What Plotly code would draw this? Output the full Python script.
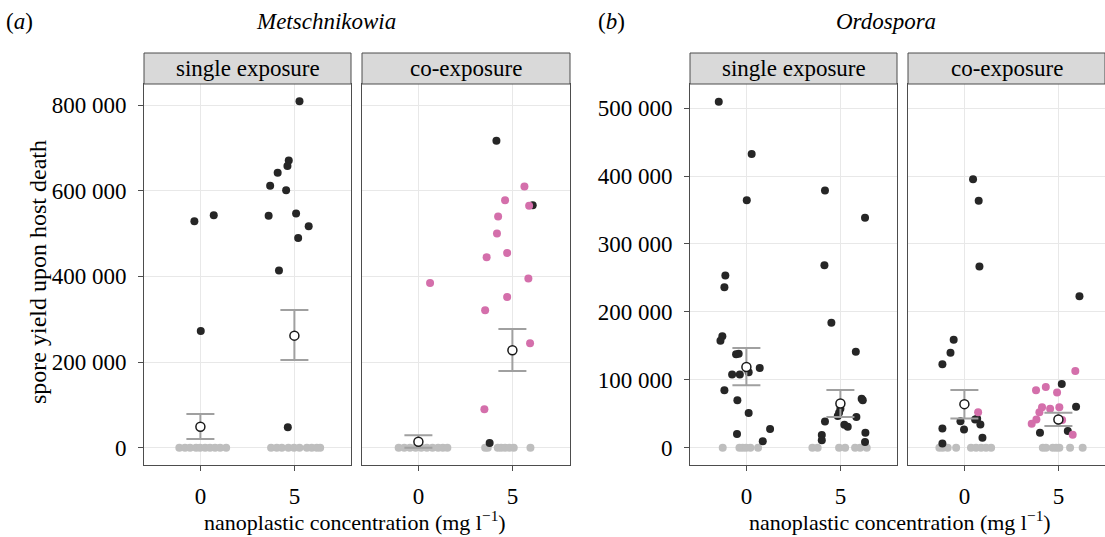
import plotly.graph_objects as go

W, H = 1105, 537
FONT = "Liberation Serif"
BLACK = "#262626"
PINK = "#D46FAB"
GREY = "#BEBEBE"

# ---------------- data: x = nanoplastic concentration (with jitter), y = spore yield ----------------
# (a) Metschnikowia - single exposure
met_single_inf_x = [-0.32, 0.71, 0.02,
                    5.27, 4.70, 4.63, 4.11, 3.71, 4.56, 3.63, 5.09, 5.76, 5.20, 4.18, 4.65]
met_single_inf_y = [529000, 543000, 272600,
                    809000, 671000, 658000, 642000, 612000, 601000, 542000, 547000, 517000, 490000, 414000, 48000]
met_single_co_x = []
met_single_co_y = []
met_single_zero_x = [-1.12, -0.82, -0.55, -0.23, -0.02, 0.25, 0.51, 0.78, 1.05, 1.37,
                     3.76, 4.06, 4.33, 4.68, 4.98, 5.27, 5.66, 5.92, 6.19, 6.37]
met_single_mean = [49000, 261700]
met_single_upper = [78700, 321700]
met_single_lower = [20300, 204900]

# (a) Metschnikowia - co-exposure
met_co_inf_x = [4.15, 6.08, 3.79]
met_co_inf_y = [717000, 566000, 10900]
met_co_co_x = [0.62,
               5.64, 4.61, 5.89, 4.24, 4.18, 4.72, 3.63, 5.85, 4.72, 3.55, 5.94, 3.51]
met_co_co_y = [384800,
               610000, 578000, 565000, 540000, 500000, 455000, 445000, 395000, 352000, 321000, 244000, 89600]
met_co_zero_x = [-1.05, -0.75, -0.45, -0.15, 0.15, 0.45, 0.75, 1.05, 1.30, 1.54,
                 3.55, 3.69, 4.22, 4.40, 4.61, 4.84, 5.07, 5.96]
met_co_mean = [14000, 227500]
met_co_upper = [28800, 277300]
met_co_lower = [0, 179200]

# (b) Ordospora - single exposure
ord_single_inf_x = [-1.47, 0.28, 0.02, -1.12, -1.17, -1.28, -1.38, -0.41, -0.55, -0.76, -0.35, 0.12, 0.71,
                    -1.17, -0.48, 0.12, 1.26, -0.50, 0.87,
                    4.18, 6.31, 4.15, 4.52, 5.82, 6.13, 6.19, 5.00, 4.93, 4.86, 4.18, 5.85, 5.21, 5.39,
                    6.33, 4.01, 4.01, 6.31]
ord_single_inf_y = [509300, 432500, 364500, 253400, 236300, 163900, 157500, 138400, 137500, 107600, 107600,
                    111000, 117400, 84600, 70000, 50900, 27400, 20000, 9300,
                    378600, 338500, 268600, 183900, 141400, 71900, 70000, 57200, 51400, 46500, 38600, 45000,
                    33800, 30800, 22000, 18600, 10800, 8300]
ord_single_co_x = []
ord_single_co_y = []
ord_single_zero_x = [-1.26, -0.37, -0.20, -0.02, 0.21, 0.62,
                     3.51, 3.79, 4.93, 5.25, 5.78, 6.05, 6.40]
ord_single_mean = [118900, 65000]
ord_single_upper = [146800, 85100]
ord_single_lower = [92000, 45000]

# (b) Ordospora - co-exposure
ord_co_inf_x = [0.46, 0.76, 0.80, -0.57, -0.74, -1.17, -0.21, -0.02, 0.57, 0.68, 0.85, 0.96, -1.17, -1.17,
                6.12, 5.18, 5.94, 4.02, 5.50]
ord_co_inf_y = [395300, 363500, 266600, 159000, 139900, 122800, 39000, 26900, 41500, 42500, 34200, 14700,
                28300, 6300,
                223100, 93900, 60200, 22000, 24500]
ord_co_co_x = [0.73,
               5.90, 3.81, 4.33, 4.93, 4.13, 4.56, 5.05, 3.99, 3.83, 3.58, 5.20, 5.76]
ord_co_co_y = [52300,
               113000, 84600, 89500, 81200, 59700, 57200, 59700, 52300, 41600, 35200, 40600, 19100]
ord_co_zero_x = [-1.33, -1.15, -0.89, -0.44, 0.35, 0.62, 0.89, 1.15, 1.42,
                 4.17, 4.34, 4.70, 4.88, 5.05, 5.62, 6.29]
ord_co_mean = [64100, 41600]
ord_co_upper = [85100, 51400]
ord_co_lower = [43000, 31800]

conc_levels = [0, 5]
conc_labels = ["0", "5"]
met_ticks = [0, 200000, 400000, 600000, 800000]
ord_ticks = [0, 100000, 200000, 300000, 400000, 500000]
strip_labels = ["single exposure", "co-exposure"]


def fmt(v):
    return f"{v:,}".replace(",", " ")


panels = [
    dict(inf=(met_single_inf_x, met_single_inf_y), co=(met_single_co_x, met_single_co_y),
         zero=met_single_zero_x, mean=met_single_mean, up=met_single_upper, lo=met_single_lower),
    dict(inf=(met_co_inf_x, met_co_inf_y), co=(met_co_co_x, met_co_co_y),
         zero=met_co_zero_x, mean=met_co_mean, up=met_co_upper, lo=met_co_lower),
    dict(inf=(ord_single_inf_x, ord_single_inf_y), co=(ord_single_co_x, ord_single_co_y),
         zero=ord_single_zero_x, mean=ord_single_mean, up=ord_single_upper, lo=ord_single_lower),
    dict(inf=(ord_co_inf_x, ord_co_inf_y), co=(ord_co_co_x, ord_co_co_y),
         zero=ord_co_zero_x, mean=ord_co_mean, up=ord_co_upper, lo=ord_co_lower),
]

# layout geometry (pixels)
px_left = [144, 362, 690, 908]
px_right = [351, 570, 897, 1105]
plot_top, plot_bottom = 84, 465
strip_top = 53
unit_px = 206.8 / 11.0
TICK_SIZE = 23
TEXT_SIZE = 23
TITLE_SIZE = 22

fig = go.Figure()

for i, p in enumerate(panels):
    ax = "" if i == 0 else str(i + 1)
    xr, yr = "x" + ax, "y" + ax
    fig.add_trace(go.Scatter(x=p["zero"], y=[0] * len(p["zero"]), mode="markers", xaxis=xr, yaxis=yr,
                             marker=dict(color=GREY, size=8), showlegend=False, hoverinfo="skip"))
    fig.add_trace(go.Scatter(x=p["inf"][0], y=p["inf"][1], mode="markers", xaxis=xr, yaxis=yr,
                             marker=dict(color=BLACK, size=8), showlegend=False))
    if p["co"][0]:
        fig.add_trace(go.Scatter(x=p["co"][0], y=p["co"][1], mode="markers", xaxis=xr, yaxis=yr,
                                 marker=dict(color=PINK, size=8), showlegend=False))
    fig.add_trace(go.Scatter(
        x=conc_levels, y=p["mean"], mode="markers", xaxis=xr, yaxis=yr, showlegend=False,
        marker=dict(color="white", size=9, line=dict(color="#1A1A1A", width=1.5)),
        error_y=dict(type="data", symmetric=False,
                     array=[u - m for u, m in zip(p["up"], p["mean"])],
                     arrayminus=[m - l for m, l in zip(p["mean"], p["lo"])],
                     color="#A0A0A0", thickness=2, width=14)))

    is_met = i < 2
    ticks = met_ticks if is_met else ord_ticks
    yrange = [-40450, 849450] if is_met else [-25500, 535500]
    width_px = px_right[i] - px_left[i]
    xrange = [-3, -3 + width_px / unit_px]
    common = dict(showgrid=True, gridcolor="#E8E8E8", gridwidth=1.3, zeroline=False,
                  showline=True, linecolor="#4D4D4D", linewidth=1, mirror=True,
                  tickfont=dict(family=FONT, size=TICK_SIZE, color="black"),
                  ticks="outside", ticklen=5, tickcolor="#4D4D4D", tickwidth=1)
    fig.update_layout(**{
        "xaxis" + ax: dict(domain=[px_left[i] / W, px_right[i] / W], range=xrange,
                           tickvals=conc_levels, ticktext=conc_labels, anchor=yr,
                           ticklabelstandoff=5, **common),
        "yaxis" + ax: dict(domain=[(H - plot_bottom) / H, (H - plot_top) / H], range=yrange,
                           tickvals=ticks, ticktext=[fmt(t) for t in ticks], anchor=xr,
                           showticklabels=(i % 2 == 0), ticklabelstandoff=7, **common),
    })
    if i % 2 == 1:
        fig.update_layout(**{"yaxis" + ax: dict(ticks="")})

    # facet strip
    fig.add_shape(type="rect", xref="paper", yref="paper",
                  x0=px_left[i] / W, x1=px_right[i] / W,
                  y0=(H - plot_top) / H, y1=(H - strip_top) / H,
                  fillcolor="#D9D9D9", line=dict(color="#4D4D4D", width=1), layer="above")
    fig.add_annotation(xref="paper", yref="paper", x=(px_left[i] + min(px_right[i], px_left[i] + 207)) / 2 / W,
                       y=(H - (plot_top + strip_top) / 2) / H, text=strip_labels[i % 2], showarrow=False,
                       font=dict(family=FONT, size=TEXT_SIZE, color="black"), xanchor="center", yanchor="middle")


def ann(x, y, text, size=TEXT_SIZE, angle=0, italic=False, yanchor="middle"):
    fig.add_annotation(xref="paper", yref="paper", x=x / W, y=(H - y) / H, text=text, showarrow=False,
                       textangle=angle, xanchor="center", yanchor=yanchor, borderpad=0,
                       font=dict(family=FONT, size=size, color="black", style="italic" if italic else "normal"))


ann(19, 22, "(<i>a</i>)")
ann(326, 22, "Metschnikowia", italic=True)
ann(611, 22, "(<i>b</i>)")
ann(886, 22, "Ordospora", italic=True)
ann(38, 272, "spore yield upon host death", size=24, angle=-90)
ann(355, 536, "nanoplastic concentration (mg l<sup>−1</sup>)", size=TITLE_SIZE, yanchor="bottom")
ann(900, 536, "nanoplastic concentration (mg l<sup>−1</sup>)", size=TITLE_SIZE, yanchor="bottom")

fig.update_layout(width=W, height=H, margin=dict(l=0, r=0, t=0, b=0),
                  paper_bgcolor="white", plot_bgcolor="white",
                  font=dict(family=FONT, color="black"))

fig.write_html("out.html")
